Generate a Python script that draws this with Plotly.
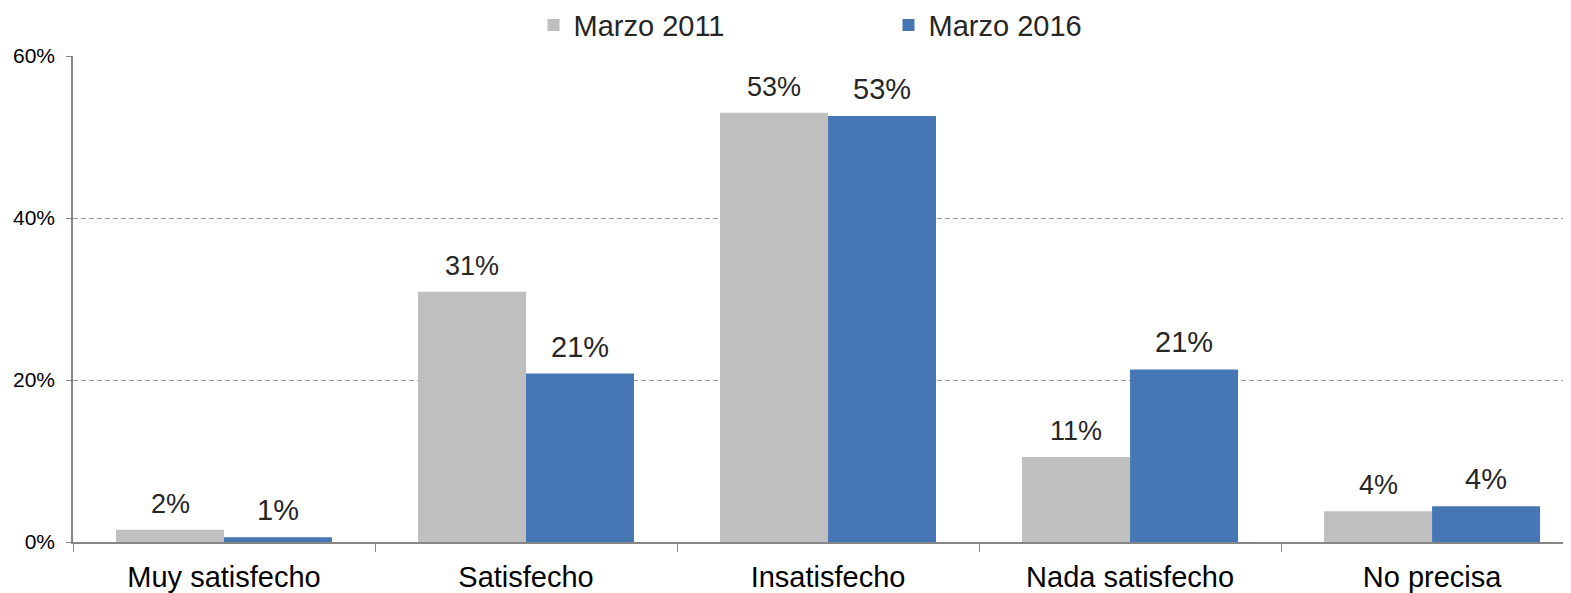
import plotly.graph_objects as go

categories = ["Muy satisfecho", "Satisfecho", "Insatisfecho", "Nada satisfecho", "No precisa"]
marzo_2011 = [1.5, 30.9, 53.0, 10.5, 3.8]
marzo_2016 = [0.6, 20.8, 52.6, 21.3, 4.4]
labels_2011 = ["2%", "31%", "53%", "11%", "4%"]
labels_2016 = ["1%", "21%", "53%", "21%", "4%"]
y_ticks = [0, 20, 40, 60]
y_ticktext = ["0%", "20%", "40%", "60%"]

GRAY = '#BFBFBF'
BLUE = '#4677B4'
AXIS = '#868686'
TXT = '#262626'
FONT = 'Liberation Sans, Arial, sans-serif'

fig = go.Figure()
fig.add_trace(go.Bar(x=categories, y=marzo_2011, name='Marzo 2011',
                     marker=dict(color=GRAY, line=dict(width=0))))
fig.add_trace(go.Bar(x=categories, y=marzo_2016, name='Marzo 2016',
                     marker=dict(color=BLUE, line=dict(width=0))))

# value labels above each bar
for cat, v, lab in zip(categories, marzo_2011, labels_2011):
    fig.add_annotation(x=cat, y=v, text=lab, showarrow=False, xshift=-54,
                       yanchor='bottom', yshift=9, font=dict(size=27, color=TXT))
for cat, v, lab in zip(categories, marzo_2016, labels_2016):
    fig.add_annotation(x=cat, y=v, text=lab, showarrow=False, xshift=54,
                       yanchor='bottom', yshift=9, font=dict(size=29, color=TXT))

# the page body has an 8px margin, so the margins are offset to compensate
fig.update_layout(
    width=1571, height=593,
    template='none',
    barmode='group', bargap=0.285, bargroupgap=0,
    paper_bgcolor='white', plot_bgcolor='white',
    font=dict(family=FONT, color=TXT),
    margin=dict(l=65, r=8, t=48, b=59),
    showlegend=True,
    legend=dict(orientation='h', xref='container', yref='container',
                x=0.3345, xanchor='left', y=0.971, yanchor='middle',
                entrywidth=310, font=dict(size=29, color=TXT),
                bgcolor='rgba(0,0,0,0)'),
)
fig.update_xaxes(range=[-0.5, 4.46], showline=True, linecolor=AXIS, linewidth=1.5,
                 ticks='outside', tickson='boundaries', ticklen=8, tickcolor=AXIS,
                 tickfont=dict(size=29, color='black'), ticklabelstandoff=8,
                 showgrid=False, automargin=False)
fig.update_yaxes(range=[0, 60], tickmode='array', tickvals=y_ticks, ticktext=y_ticktext,
                 showline=True, linecolor=AXIS, linewidth=1.5,
                 ticks='outside', ticklen=5, tickcolor=AXIS,
                 tickfont=dict(size=21, color='black'), ticklabelstandoff=7,
                 showgrid=True, gridcolor='#9A9A9A', griddash='5px,3px', gridwidth=1,
                 zeroline=False, automargin=False)

fig.write_html("out.html")
